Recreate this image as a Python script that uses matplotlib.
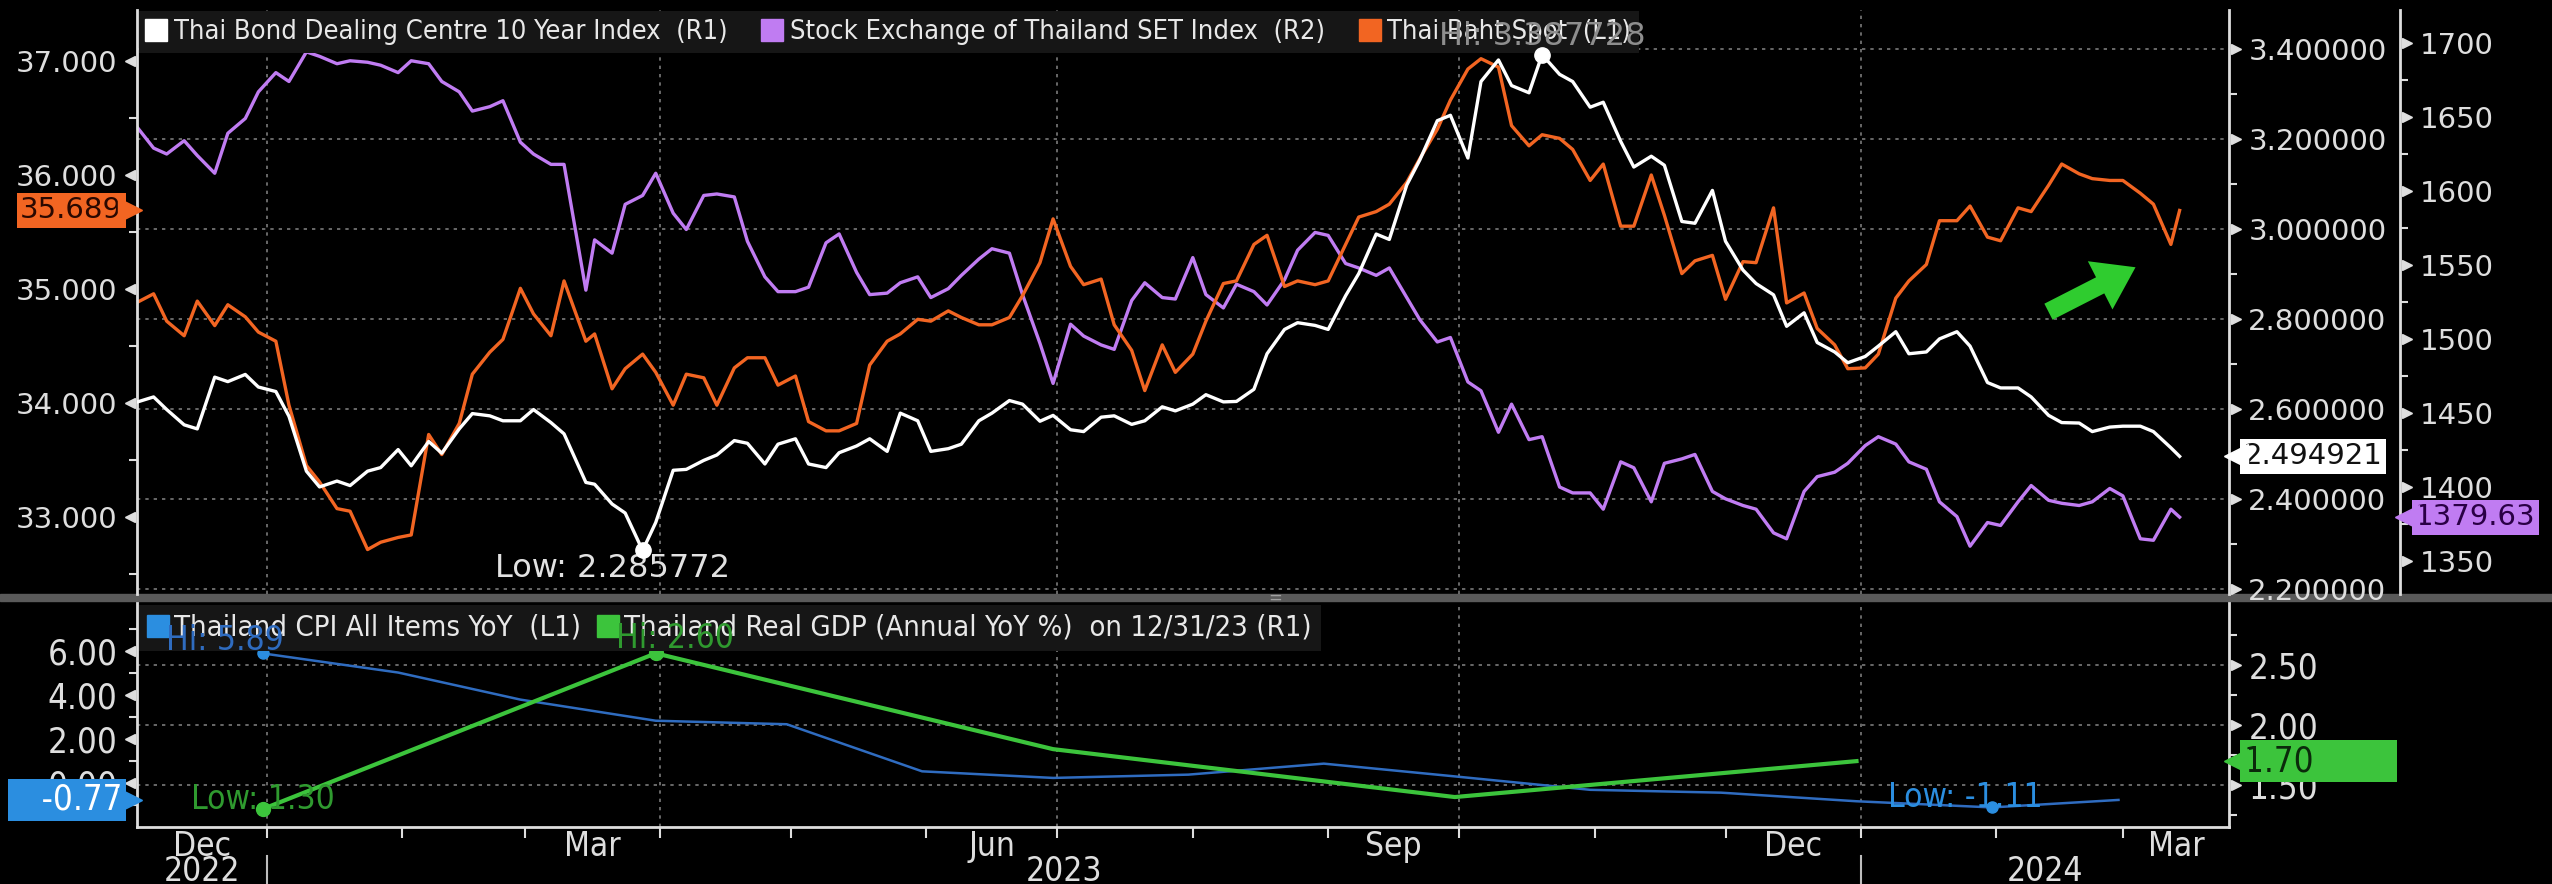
import matplotlib
matplotlib.use("Agg")
import matplotlib.pyplot as plt
import matplotlib.dates as mdates
import matplotlib.ticker as mticker
from matplotlib import font_manager
from matplotlib.lines import Line2D
from matplotlib.patches import Rectangle
from matplotlib.transforms import offset_copy
import pandas as pd

# twice-weekly values, one row per month
dates = pd.to_datetime([
    "2022-12-02", "2022-12-06", "2022-12-09", "2022-12-13", "2022-12-16", "2022-12-20", "2022-12-23", "2022-12-27", "2022-12-30",
    "2023-01-03", "2023-01-06", "2023-01-10", "2023-01-13", "2023-01-17", "2023-01-20", "2023-01-24", "2023-01-27", "2023-01-31",
    "2023-02-03", "2023-02-07", "2023-02-10", "2023-02-14", "2023-02-17", "2023-02-21", "2023-02-24", "2023-02-28",
    "2023-03-03", "2023-03-07", "2023-03-10", "2023-03-15", "2023-03-17", "2023-03-21", "2023-03-24", "2023-03-28", "2023-03-31",
    "2023-04-04", "2023-04-07", "2023-04-11", "2023-04-14", "2023-04-18", "2023-04-21", "2023-04-25", "2023-04-28",
    "2023-05-02", "2023-05-05", "2023-05-09", "2023-05-12", "2023-05-16", "2023-05-19", "2023-05-23", "2023-05-26", "2023-05-30",
    "2023-06-02", "2023-06-06", "2023-06-09", "2023-06-13", "2023-06-16", "2023-06-20", "2023-06-23", "2023-06-27", "2023-06-30",
    "2023-07-04", "2023-07-07", "2023-07-11", "2023-07-14", "2023-07-18", "2023-07-21", "2023-07-25", "2023-07-28",
    "2023-08-01", "2023-08-04", "2023-08-08", "2023-08-11", "2023-08-15", "2023-08-18", "2023-08-22", "2023-08-25", "2023-08-29",
    "2023-09-01", "2023-09-05", "2023-09-08", "2023-09-12", "2023-09-15", "2023-09-19", "2023-09-22", "2023-09-26", "2023-09-29",
    "2023-10-03", "2023-10-06", "2023-10-10", "2023-10-13", "2023-10-17", "2023-10-20", "2023-10-24", "2023-10-27", "2023-10-31",
    "2023-11-03", "2023-11-07", "2023-11-10", "2023-11-14", "2023-11-17", "2023-11-21", "2023-11-24", "2023-11-28",
    "2023-12-01", "2023-12-05", "2023-12-08", "2023-12-12", "2023-12-15", "2023-12-19", "2023-12-22", "2023-12-26", "2023-12-29",
    "2024-01-02", "2024-01-05", "2024-01-09", "2024-01-12", "2024-01-16", "2024-01-19", "2024-01-23", "2024-01-26", "2024-01-30",
    "2024-02-02", "2024-02-06", "2024-02-09", "2024-02-13", "2024-02-16", "2024-02-20", "2024-02-23", "2024-02-27",
    "2024-03-01", "2024-03-05", "2024-03-08", "2024-03-12", "2024-03-14",
])

bond_10y = [
    2.615, 2.627, 2.599, 2.565, 2.556, 2.671, 2.661, 2.677, 2.649,
    2.639, 2.584, 2.462, 2.427, 2.440, 2.430, 2.462, 2.470, 2.510,
    2.474, 2.528, 2.502, 2.556, 2.590, 2.585, 2.574, 2.574,
    2.599, 2.570, 2.545, 2.437, 2.433, 2.389, 2.369, 2.285772, 2.348,
    2.464, 2.466, 2.486, 2.498, 2.530, 2.524, 2.478, 2.522,
    2.534, 2.478, 2.470, 2.503, 2.518, 2.534, 2.506, 2.591, 2.574,
    2.506, 2.512, 2.522, 2.574, 2.591, 2.619, 2.611, 2.573, 2.586,
    2.554, 2.550, 2.582, 2.585, 2.566, 2.574, 2.605, 2.596,
    2.611, 2.632, 2.616, 2.617, 2.644, 2.723, 2.777, 2.792, 2.786,
    2.777, 2.852, 2.901, 2.989, 2.977, 3.098, 3.154, 3.241, 3.253,
    3.158, 3.328, 3.376, 3.319, 3.303, 3.387728, 3.344, 3.328, 3.271,
    3.282, 3.195, 3.138, 3.162, 3.142, 3.017, 3.013, 3.086,
    2.973, 2.909, 2.879, 2.854, 2.784, 2.814, 2.748, 2.727, 2.703,
    2.717, 2.740, 2.772, 2.723, 2.727, 2.756, 2.772, 2.740, 2.659,
    2.647, 2.647, 2.627, 2.586, 2.570, 2.569, 2.550, 2.560,
    2.562, 2.562, 2.550, 2.514, 2.494921,
]

set_index = [
    1644, 1629, 1625, 1634, 1624, 1612, 1639, 1649, 1667,
    1680, 1674, 1694, 1691, 1686, 1688, 1687, 1685, 1680,
    1688, 1686, 1674, 1667, 1654, 1657, 1661, 1633,
    1625, 1618, 1618, 1533, 1567, 1558, 1591, 1597, 1612,
    1585, 1574, 1597, 1598, 1596, 1566, 1542, 1532,
    1532, 1535, 1565, 1571, 1545, 1530, 1531, 1538, 1542,
    1528, 1534, 1543, 1554, 1561, 1558, 1530, 1497, 1470,
    1510, 1502, 1496, 1493, 1526, 1538, 1528, 1527,
    1555, 1530, 1521, 1537, 1532, 1523, 1540, 1560, 1572,
    1570, 1551, 1548, 1543, 1548, 1528, 1513, 1498, 1501,
    1471, 1465, 1437, 1456, 1432, 1434, 1400, 1396, 1396,
    1385, 1417, 1413, 1390, 1416, 1419, 1422, 1397,
    1392, 1387.5, 1385, 1369, 1365, 1397, 1407, 1410, 1416,
    1428, 1434, 1429, 1417, 1412, 1390, 1380, 1360, 1376,
    1374, 1390, 1401, 1391, 1389, 1387.5, 1390, 1399,
    1394, 1365, 1364, 1385, 1379.63,
]

thb_spot = [
    34.878, 34.958, 34.718, 34.590, 34.894, 34.679, 34.862, 34.756, 34.622,
    34.542, 33.981, 33.452, 33.308, 33.074, 33.051, 32.715, 32.779, 32.821,
    32.843, 33.724, 33.548, 33.821, 34.253, 34.446, 34.558, 35.006,
    34.782, 34.590, 35.071, 34.542, 34.606, 34.125, 34.301, 34.429, 34.269,
    33.981, 34.253, 34.221, 33.981, 34.308, 34.397, 34.397, 34.157,
    34.237, 33.837, 33.756, 33.756, 33.821, 34.333, 34.542, 34.606, 34.734,
    34.718, 34.808, 34.750, 34.686, 34.686, 34.750, 34.942, 35.231, 35.615,
    35.199, 35.038, 35.087, 34.686, 34.462, 34.109, 34.510, 34.269,
    34.429, 34.718, 35.048, 35.071, 35.391, 35.471, 35.022, 35.071, 35.038,
    35.071, 35.391, 35.631, 35.679, 35.744, 35.936, 36.144, 36.401, 36.657,
    36.929, 37.020, 36.946, 36.433, 36.256, 36.353, 36.321, 36.224, 35.952,
    36.096, 35.551, 35.551, 36.000, 35.647, 35.135, 35.247, 35.295,
    34.910, 35.240, 35.231, 35.712, 34.878, 34.965, 34.654, 34.510, 34.301,
    34.308, 34.429, 34.920, 35.071, 35.215, 35.599, 35.599, 35.728, 35.455,
    35.423, 35.712, 35.679, 35.910, 36.096, 36.010, 35.968, 35.952,
    35.952, 35.840, 35.744, 35.391, 35.689,
]

cpi_dates = pd.to_datetime([
    "2022-12-31", "2023-01-31", "2023-02-28", "2023-03-31", "2023-04-30",
    "2023-05-31", "2023-06-30", "2023-07-31", "2023-08-31", "2023-09-30",
    "2023-10-31", "2023-11-30", "2023-12-31", "2024-01-31", "2024-02-29",
])
cpi_yoy = [5.89, 5.02, 3.79, 2.83, 2.67, 0.53, 0.23, 0.38, 0.88, 0.30,
           -0.31, -0.44, -0.83, -1.11, -0.77]

gdp_dates = pd.to_datetime(["2022-12-31", "2023-03-31", "2023-06-30",
                            "2023-09-30", "2023-12-31"])
gdp_yoy = [1.30, 2.60, 1.80, 1.40, 1.70]

month_labels = ["Dec", "Mar", "Jun", "Sep", "Dec", "Mar"]
month_periods = ["2022-12", "2023-03", "2023-06", "2023-09", "2023-12", "2024-03"]
year_labels = ["2022", "2023", "2024"]

# colours
BG = "black"
WHITE = "#ffffff"
PURPLE = "#c07cf2"
ORANGE = "#f26522"
BLUE = "#2f6cc0"
BLUE_TAG = "#2b8ee0"
GREEN = "#3cc43c"
TICK = "#dedede"
GRID = "#7a7a7a"

names = {f.name for f in font_manager.fontManager.ttflist}
if "Liberation Sans Narrow" in names:
    NARROW = dict(family="Liberation Sans Narrow")
else:
    NARROW = dict(family="DejaVu Sans", stretch="condensed")
WIDE = dict(family="DejaVu Sans")

x0 = pd.Timestamp("2022-12-02 05:00")
x1 = pd.Timestamp("2024-03-25 07:00")

fig = plt.figure(figsize=(25.52, 8.84), dpi=100, facecolor=BG)

L, W = 0.0537, 0.8197
top_rect = [L, 0.32805, W, 0.66063]
bot_rect = [L, 0.06448, W, 0.25339]


def bare(ax):
    ax.patch.set_visible(False)
    for s in ax.spines.values():
        s.set_visible(False)
    ax.set_xlim(x0, x1)
    ax.tick_params(axis="x", which="both", bottom=False, labelbottom=False)


def arrow_ticks(ax, values, xpos, side):
    dx = -7 if side == "left" else 7
    tr = offset_copy(ax.get_yaxis_transform(), fig=fig, x=dx, units="dots")
    ax.plot([xpos] * len(values), values, ls="none", marker="<" if side == "left" else ">",
            ms=7, color=TICK, transform=tr, clip_on=False)


def style_y(ax, major, minor, fmt, side, size, font, xpos=None):
    ax.set_yticks(major)
    ax.set_yticks(minor, minor=True)
    ax.yaxis.set_major_formatter(mticker.FormatStrFormatter(fmt))
    if side == "right":
        ax.yaxis.tick_right()
    ax.tick_params(axis="y", which="major", length=0, pad=14, labelsize=size, labelcolor=TICK)
    ax.tick_params(axis="y", which="minor", length=6, width=1.5, color=TICK, direction="out")
    for lab in ax.get_yticklabels():
        lab.set(**font)
    arrow_ticks(ax, major, (0 if side == "left" else 1) if xpos is None else xpos, side)


def tag(ax, xpos, val, text, fc, tc, side, font, size):
    dx = -15 if side == "left" else 15
    ax.annotate(text, xy=(xpos, val), xycoords=ax.get_yaxis_transform(),
                xytext=(dx, 0), textcoords="offset pixels",
                ha="right" if side == "left" else "left", va="center",
                color=tc, fontsize=size, annotation_clip=False, zorder=10,
                bbox=dict(boxstyle="square,pad=0.12", fc=fc, ec="none"), **font)
    tr = offset_copy(ax.get_yaxis_transform(), fig=fig, x=-7 if side == "left" else 7, units="dots")
    ax.plot([xpos], [val], ls="none", marker=">" if side == "left" else "<", ms=17,
            color=fc, transform=tr, clip_on=False, zorder=10)


quarter_starts = pd.to_datetime(["2023-01-01", "2023-04-01", "2023-07-01",
                                 "2023-10-01", "2024-01-01"])

# ---------------- top panel ----------------
g_top = fig.add_axes(top_rect)
bare(g_top)
g_top.set_ylim(2.189, 3.487)
g_top.set_yticks([2.2, 2.4, 2.6, 2.8, 3.0, 3.2, 3.4])
g_top.tick_params(axis="y", left=False, labelleft=False)
g_top.grid(axis="y", color=GRID, ls=(0, (2, 3)), lw=1.2)
for q in quarter_starts:
    g_top.axvline(q, color=GRID, ls=(0, (2, 3)), lw=1.2)
g_top.set_zorder(1)

a_set = fig.add_axes(top_rect)
bare(a_set)
a_set.plot(dates, set_index, color=PURPLE, lw=2.4)
a_set.set_ylim(1327.7, 1722.3)
a_set.spines["right"].set_visible(True)
a_set.spines["right"].set_position(("axes", 1.0818))
a_set.spines["right"].set_color(TICK)
a_set.spines["right"].set_linewidth(2)
style_y(a_set, [1350, 1400, 1450, 1500, 1550, 1600, 1650, 1700],
        [1375, 1425, 1475, 1525, 1575, 1625, 1675], "%d", "right", 21, WIDE, xpos=1.0818)
a_set.set_zorder(2)

a_thb = fig.add_axes(top_rect)
bare(a_thb)
a_thb.plot(dates, thb_spot, color=ORANGE, lw=2.4)
a_thb.set_ylim(32.325, 37.447)
a_thb.spines["left"].set_visible(True)
a_thb.spines["left"].set_color(TICK)
a_thb.spines["left"].set_linewidth(2)
style_y(a_thb, [33, 34, 35, 36, 37], [32.5, 33.5, 34.5, 35.5, 36.5], "%.3f", "left", 21, WIDE)
a_thb.set_zorder(3)

a_bond = fig.add_axes(top_rect)
bare(a_bond)
a_bond.plot(dates, bond_10y, color=WHITE, lw=2.4)
a_bond.set_ylim(2.189, 3.487)
a_bond.spines["right"].set_visible(True)
a_bond.spines["right"].set_color(TICK)
a_bond.spines["right"].set_linewidth(2)
style_y(a_bond, [2.2, 2.4, 2.6, 2.8, 3.0, 3.2, 3.4], [2.3, 2.5, 2.7, 2.9, 3.1, 3.3],
        "%.6f", "right", 21, WIDE)
a_bond.set_zorder(4)

# hi / low of the bond index
i_lo = bond_10y.index(min(bond_10y))
i_hi = bond_10y.index(max(bond_10y))
a_bond.plot([dates[i_lo], dates[i_hi]], [bond_10y[i_lo], bond_10y[i_hi]], ls="none",
            marker="o", ms=11, color=WHITE, zorder=6, clip_on=False)
a_bond.annotate(f"Low: {bond_10y[i_lo]:.6f}", xy=(dates[i_lo], bond_10y[i_lo]),
                xytext=(-22, -13), textcoords="offset points", ha="center", va="center",
                color="#e2e2e2", fontsize=23, **WIDE)

leg = a_bond.legend(
    [Line2D([], [], ls="none", marker="s", ms=16, color=c) for c in (WHITE, PURPLE, ORANGE)],
    ["Thai Bond Dealing Centre 10 Year Index  (R1)",
     "Stock Exchange of Thailand SET Index  (R2)",
     "Thai Baht Spot  (L1)"],
    loc="upper left", bbox_to_anchor=(0.0008, 0.998), ncol=3, frameon=True, fancybox=False,
    facecolor="#161616", edgecolor="none", framealpha=1, handlelength=0.7,
    handletextpad=0.3, columnspacing=1.3, borderpad=0.3, borderaxespad=0.0,
    prop=dict(size=19.5, **NARROW))
leg.set_zorder(5)
for t in leg.get_texts():
    t.set_color("#e8e8e8")

a_bond.annotate(f"Hi: {bond_10y[i_hi]:.6f}", xy=(dates[i_hi], bond_10y[i_hi]),
                xytext=(0, 13), textcoords="offset points", ha="center", va="center",
                color="#8e8e8e", fontsize=23, zorder=7, **WIDE)

# last value tags
tag(a_thb, 0, thb_spot[-1], f"{thb_spot[-1]:.3f}", ORANGE, "#2a0800", "left", WIDE, 21)
tag(a_bond, 1, bond_10y[-1], f"{bond_10y[-1]:.6f}", WHITE, "#111111", "right", WIDE, 21)
tag(a_set, 1.0818, set_index[-1], f"{set_index[-1]:.2f}", PURPLE, "#2a0045", "right", WIDE, 21)

# green arrow drawn on the screenshot
fig.add_artist(plt.Annotation("", xy=(2138, 884 - 266), xycoords="figure pixels",
                              xytext=(2046, 884 - 313), textcoords="figure pixels",
                              arrowprops=dict(arrowstyle="simple,head_length=1.1,head_width=1.5,tail_width=0.5",
                                              color="#2fcc2f", mutation_scale=26, lw=0)))

# separator bar between panels
fig.add_artist(Rectangle((0, 0.3201), 1, 0.0079, transform=fig.transFigure, color="#5a5a5a", zorder=0))
fig.text(0.4995, 0.3240, "=", color="#a0a0a0", fontsize=12, ha="center", va="center")

# ---------------- bottom panel ----------------
g_bot = fig.add_axes(bot_rect)
bare(g_bot)
g_bot.set_ylim(1.15, 3.02)
g_bot.set_yticks([1.5, 2.0, 2.5])
g_bot.tick_params(axis="y", left=False, labelleft=False)
g_bot.grid(axis="y", color=GRID, ls=(0, (2, 3)), lw=1.2)
for q in quarter_starts:
    g_bot.axvline(q, color=GRID, ls=(0, (2, 3)), lw=1.2)
g_bot.set_zorder(1)

a_cpi = fig.add_axes(bot_rect)
bare(a_cpi)
a_cpi.plot(cpi_dates, cpi_yoy, color=BLUE, lw=1.8)
a_cpi.set_ylim(-2.0, 8.18)
for s in ("left", "bottom"):
    a_cpi.spines[s].set_visible(True)
    a_cpi.spines[s].set_color(TICK)
    a_cpi.spines[s].set_linewidth(2)
style_y(a_cpi, [0, 2, 4, 6], [-1, 1, 3, 5, 7], "%.2f", "left", 25, NARROW)
month_starts = pd.date_range("2023-01-01", "2024-03-01", freq="MS")
a_cpi.set_xticks(month_starts)
a_cpi.tick_params(axis="x", which="major", bottom=True, length=8, width=1.5, color=TICK,
                  labelbottom=False)
a_cpi.set_zorder(2)

a_gdp = fig.add_axes(bot_rect)
bare(a_gdp)
a_gdp.plot(gdp_dates, gdp_yoy, color=GREEN, lw=3)
a_gdp.set_ylim(1.15, 3.02)
a_gdp.spines["right"].set_visible(True)
a_gdp.spines["right"].set_color(TICK)
a_gdp.spines["right"].set_linewidth(2)
style_y(a_gdp, [1.5, 2.0, 2.5], [1.25, 1.75, 2.25, 2.75], "%.2f", "right", 25, NARROW)
a_gdp.set_zorder(3)

leg2 = a_gdp.legend(
    [Line2D([], [], ls="none", marker="s", ms=16, color=c) for c in (BLUE_TAG, GREEN)],
    ["Thailand CPI All Items YoY  (L1)",
     "Thailand Real GDP (Annual YoY %)  on 12/31/23 (R1)"],
    loc="upper left", bbox_to_anchor=(0.0008, 0.99), ncol=2, frameon=True, fancybox=False,
    facecolor="#161616", edgecolor="none", framealpha=1, handlelength=0.7,
    handletextpad=0.2, columnspacing=0.6, borderpad=0.3, borderaxespad=0.0,
    prop=dict(size=21, **NARROW))
leg2.set_zorder(5)
for t in leg2.get_texts():
    t.set_color("#e8e8e8")

# hi / low labels of the bottom panel, drawn above the legend box
c_hi = cpi_yoy.index(max(cpi_yoy))
c_lo = cpi_yoy.index(min(cpi_yoy))
a_cpi.plot([cpi_dates[c_hi], cpi_dates[c_lo]], [cpi_yoy[c_hi], cpi_yoy[c_lo]], ls="none",
           marker="o", ms=8, color=BLUE_TAG, clip_on=False)
a_gdp.annotate(f"Hi: {cpi_yoy[c_hi]:.2f}", xy=(mdates.date2num(cpi_dates[c_hi]), cpi_yoy[c_hi]),
               xycoords=a_cpi.transData, xytext=(-27, 9), textcoords="offset points",
               ha="center", va="center", color=BLUE, fontsize=24, zorder=6, **NARROW)
a_gdp.annotate(f"Low: {cpi_yoy[c_lo]:.2f}", xy=(mdates.date2num(cpi_dates[c_lo]), cpi_yoy[c_lo]),
               xycoords=a_cpi.transData, xytext=(-19, 7), textcoords="offset points",
               ha="center", va="center", color=BLUE_TAG, fontsize=24, zorder=6, **NARROW)

g_hi = gdp_yoy.index(max(gdp_yoy))
g_lo = gdp_yoy.index(min(gdp_yoy))
a_gdp.plot([gdp_dates[g_hi], gdp_dates[g_lo]], [gdp_yoy[g_hi], gdp_yoy[g_lo]], ls="none",
           marker="o", ms=10, color=GREEN, clip_on=False)
a_gdp.annotate(f"Hi: {gdp_yoy[g_hi]:.2f}", xy=(gdp_dates[g_hi], gdp_yoy[g_hi]),
               xytext=(14, 11), textcoords="offset points", ha="center", va="center",
               color="#2f9a2f", fontsize=24, zorder=6, **NARROW)
a_gdp.annotate(f"Low: {gdp_yoy[g_lo]:.2f}", xy=(gdp_dates[g_lo], gdp_yoy[g_lo]),
               xytext=(0, 7), textcoords="offset points", ha="center", va="center",
               color="#2f9a2f", fontsize=24, zorder=6, **NARROW)

tag(a_cpi, 0, cpi_yoy[-1], f"   {cpi_yoy[-1]:.2f}", BLUE_TAG, "white", "left", NARROW, 25)
tag(a_gdp, 1, gdp_yoy[-1], f"{gdp_yoy[-1]:.2f}        ", GREEN, "#0b2a0b", "right", NARROW, 25)

# month / year labels under the x axis, centred on the visible part of each period
for lab, per in zip(month_labels, month_periods):
    p = pd.Period(per, "M")
    s = max(p.start_time, x0)
    e = min(p.end_time, x1)
    a_cpi.text(s + (e - s) / 2, -0.085, lab, transform=a_cpi.get_xaxis_transform(),
               ha="center", va="center", color=TICK, fontsize=24, **NARROW)
for lab in year_labels:
    p = pd.Period(lab, "Y")
    s = max(p.start_time, x0)
    e = min(p.end_time, x1)
    a_cpi.text(s + (e - s) / 2, -0.2, lab, transform=a_cpi.get_xaxis_transform(),
               ha="center", va="center", color=TICK, fontsize=24, **NARROW)
for yb in pd.to_datetime(["2023-01-01", "2024-01-01"]):
    a_cpi.plot([yb, yb], [-0.13, -0.27], color="#bdbdbd", lw=1.5,
               transform=a_cpi.get_xaxis_transform(), clip_on=False)

fig.savefig("out.png", dpi=100, facecolor=BG)
